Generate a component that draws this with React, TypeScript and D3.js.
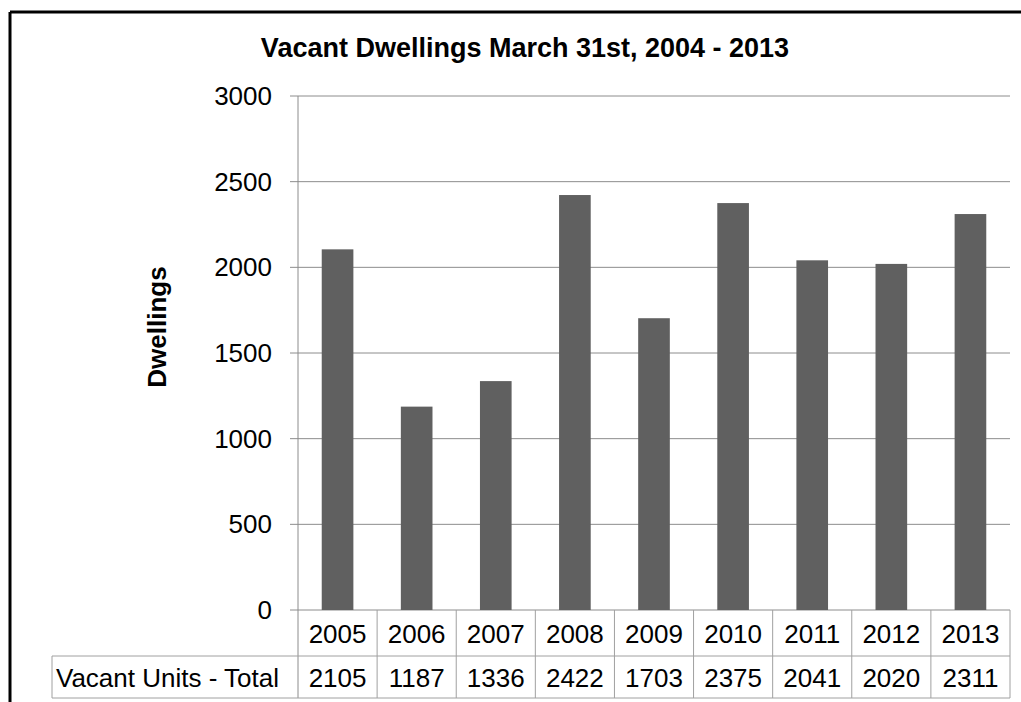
import React from 'react'
import * as d3 from 'd3'

const years = ['2005', '2006', '2007', '2008', '2009', '2010', '2011', '2012', '2013']
const vacantUnits = [2105, 1187, 1336, 2422, 1703, 2375, 2041, 2020, 2311]
const yTicks = [0, 500, 1000, 1500, 2000, 2500, 3000]
const title = 'Vacant Dwellings March 31st, 2004 - 2013'
const yLabel = 'Dwellings'
const rowLabel = 'Vacant Units - Total'

const W = 1021
const H = 702
const margin = { top: 96, right: 11, bottom: 92, left: 298 }
const font = 'Liberation Sans, Arial, sans-serif'
const gridColor = '#8c8c8c'
const tableColor = '#a0a0a0'

export default function App() {
  // table columns share the plot's band scale; bars are a narrower band inside each column
  const x = d3.scaleBand().domain(years).range([margin.left, W - margin.right]).padding(0)
  const xBar = d3.scaleBand().domain(years).range([margin.left, W - margin.right])
    .paddingInner(0.6).paddingOuter(0.3)
  const y = d3.scaleLinear().domain([0, 3000]).range([H - margin.bottom, margin.top])

  const y0 = y(0)
  const row1 = y0 + 46
  const row2 = row1 + 42
  const labelLeft = 52

  return (
    <svg width={W} height={H} style={{ position: 'absolute', left: 0, top: 0, background: '#fff' }}>
      {/* frame */}
      <line x1={10} y1={12} x2={W} y2={12} stroke="#000" strokeWidth={3} />
      <line x1={10} y1={12} x2={10} y2={H} stroke="#000" strokeWidth={3} />

      <text x={525} y={48} textAnchor="middle" dominantBaseline="central"
        fontFamily={font} fontWeight="bold" fontSize={27}>{title}</text>

      {/* gridlines and ticks */}
      {yTicks.map(t => (
        <g key={t}>
          <line x1={margin.left - 8} x2={W - margin.right} y1={y(t)} y2={y(t)}
            stroke={gridColor} strokeWidth={1} />
          <text x={272} y={y(t)} textAnchor="end" dominantBaseline="central"
            fontFamily={font} fontSize={26}>{t}</text>
        </g>
      ))}
      <line x1={margin.left} x2={margin.left} y1={y(3000)} y2={row2} stroke={gridColor} strokeWidth={1} />

      <text transform={`translate(157,327) rotate(-90)`} textAnchor="middle" dominantBaseline="central"
        fontFamily={font} fontWeight="bold" fontSize={26}>{yLabel}</text>

      {/* bars */}
      {years.map((yr, i) => (
        <rect key={yr} x={xBar(yr)} width={xBar.bandwidth()} y={y(vacantUnits[i])}
          height={y0 - y(vacantUnits[i])} fill="#606060" />
      ))}

      {/* data table */}
      <g stroke={tableColor} strokeWidth={1} fill="none">
        <line x1={labelLeft} x2={W - margin.right} y1={row1} y2={row1} />
        <line x1={labelLeft} x2={W - margin.right} y1={row2} y2={row2} />
        <line x1={labelLeft} x2={labelLeft} y1={row1} y2={row2} />
        {years.map(yr => (
          <line key={yr} x1={(x(yr) as number) + x.bandwidth()} x2={(x(yr) as number) + x.bandwidth()}
            y1={y0} y2={row2} />
        ))}
      </g>
      {years.map((yr, i) => (
        <g key={yr} fontFamily={font} fontSize={26} textAnchor="middle">
          <text x={(x(yr) as number) + x.bandwidth() / 2} y={(y0 + row1) / 2 + 1} dominantBaseline="central">{yr}</text>
          <text x={(x(yr) as number) + x.bandwidth() / 2} y={(row1 + row2) / 2 + 1} dominantBaseline="central">{vacantUnits[i]}</text>
        </g>
      ))}
      <text x={56} y={(row1 + row2) / 2 + 1} dominantBaseline="central" fontFamily={font} fontSize={26}>{rowLabel}</text>
    </svg>
  )
}
